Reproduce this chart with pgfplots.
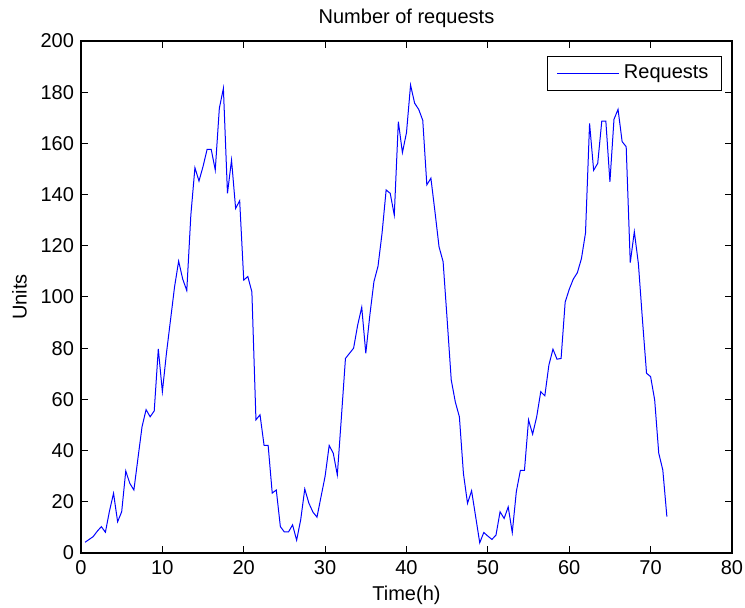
\documentclass[border=0pt]{standalone}
\usepackage{pgfplots}
\usepackage{pgfplotstable}
\pgfplotsset{compat=1.18}
\usepackage{fontspec}
\setmainfont{Liberation Sans}

% Requests per half hour over three days
\pgfplotstableread{
t r
0.5 4.2
1.0 5.3
1.5 6.4
2.0 8.5
2.5 10.3
3.0 8.1
3.5 16.4
4.0 23.3
4.5 12.2
5.0 16.1
5.5 32
6.0 27.2
6.5 24.6
7.0 37
7.5 49.3
8.0 56
8.5 53.2
9.0 55.5
9.5 79.7
10.0 63
10.5 78
11.0 91
11.5 104
12.0 114
12.5 107
13.0 102.5
13.5 132
14.0 150.5
14.5 145.3
15.0 151
15.5 157.7
16.0 157.7
16.5 149.6
17.0 173.7
17.5 181.5
18.0 140.5
18.5 153.5
19.0 134.6
19.5 137.6
20.0 106.6
20.5 108
21.0 102
21.5 52
22.0 54
22.5 42
23.0 42
23.5 23.4
24.0 24.6
24.5 10.3
25.0 8.2
25.5 8.2
26.0 11
26.5 5
27.0 13
27.5 25
28.0 19.5
28.5 16
29.0 14
29.5 22
30.0 30
30.5 42
31.0 39
31.5 30.5
32.0 53
32.5 76
33.0 78
33.5 80
34.0 89
34.5 96
35.0 78
35.5 93
36.0 106
36.5 112
37.0 125
37.5 141.8
38.0 140.5
38.5 132
39.0 168.5
39.5 156.4
40.0 164.2
40.5 182.8
41.0 175.7
41.5 173.3
42.0 169
42.5 143.8
43.0 146.4
43.5 133.3
44.0 119.6
44.5 113.8
45.0 91
45.5 67.6
46.0 59
46.5 53.2
47.0 31
47.5 19.4
48.0 24.3
48.5 14.2
49.0 4
49.5 8
50.0 6.6
50.5 5.3
51.0 7
51.5 16.1
52.0 13.5
52.5 18
53.0 8
53.5 24
54.0 32.3
54.5 32.3
55.0 52
55.5 46.4
56.0 53.2
56.5 63
57.0 61.4
57.5 73.4
58.0 79.6
58.5 75.7
59.0 76
59.5 98
60.0 103
60.5 107
61.0 109.5
61.5 115
62.0 125
62.5 167.8
63.0 149.5
63.5 152.2
64.0 168.7
64.5 168.7
65.0 145
65.5 169.4
66.0 173.3
66.5 160.7
67.0 158.7
67.5 113.4
68.0 125.5
68.5 113
69.0 91
69.5 70.2
70.0 68.9
70.5 59.8
71.0 39
71.5 32.4
72.0 14.2
}\requests

\begin{document}
\begin{tikzpicture}
\path[use as bounding box] (-40.5pt,-27.5pt) rectangle (332pt,276.5pt);
\begin{axis}[
  at={(0,0)}, anchor=south west,
  scale only axis, width=325.5pt, height=256pt,
  xmin=0, xmax=80, ymin=0, ymax=200,
  xtick={0,10,...,80}, ytick={0,20,...,200},
  xtick pos=both, ytick pos=both,
  tick align=inside,
  major tick length=3.5pt,
  tick style={black, line width=0.5pt},
  axis line style={black, line width=0.8pt},
  /pgf/number format/assume math mode=true,
  title={Number of requests},
  title style={yshift=-3pt},
  xlabel={Time(h)},
  xlabel style={yshift=1pt},
  ylabel={Units},
  legend style={
    at={(1,1)}, anchor=north east, xshift=-5pt, yshift=-7.5pt,
    draw=black, line width=0.5pt,
    inner xsep=4.5pt, inner ysep=2.3pt,
    cells={anchor=west},
  },
  legend image code/.code={\draw[#1] (0pt,0pt) -- (31pt,0pt);},
]
\addplot[blue, line width=0.5pt] table[x=t, y=r] {\requests};
\addlegendentry{Requests}
\end{axis}
\end{tikzpicture}
\end{document}
